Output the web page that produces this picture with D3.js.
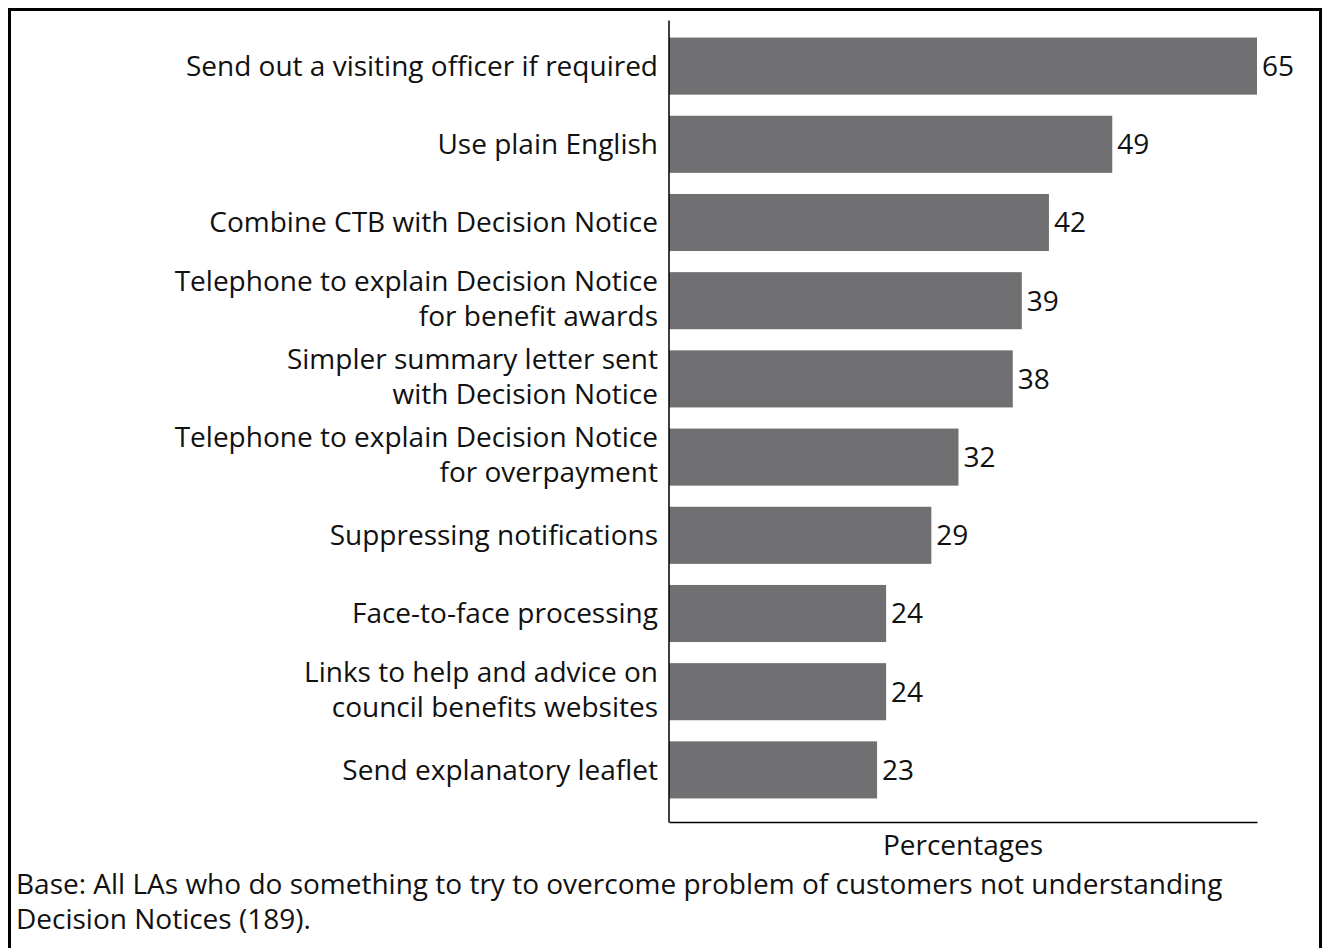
<!DOCTYPE html>
<html>
<head>
<meta charset="utf-8">
<script src="https://cdn.jsdelivr.net/npm/d3@7"></script>
<style>
  html, body { margin: 0; padding: 0; background: #fff; }
  svg { display: block; }
  text { font-family: "Open Sans", Lato, sans-serif; fill: #111; }
</style>
</head>
<body>
<svg id="chart" width="1323" height="948"></svg>
<script>
// Measures taken by LAs to help customers understand Decision Notices
const categories = [
  ["Send out a visiting officer if required"],
  ["Use plain English"],
  ["Combine CTB with Decision Notice"],
  ["Telephone to explain Decision Notice", "for benefit awards"],
  ["Simpler summary letter sent", "with Decision Notice"],
  ["Telephone to explain Decision Notice", "for overpayment"],
  ["Suppressing notifications"],
  ["Face-to-face processing"],
  ["Links to help and advice on", "council benefits websites"],
  ["Send explanatory leaflet"]
];
const values = [65, 49, 42, 39, 38, 32, 29, 24, 24, 23];
const axisTitle = "Percentages";
const baseNote = [
  "Base: All LAs who do something to try to overcome problem of customers not understanding",
  "Decision Notices (189)."
];

const svg = d3.select("#chart");
const fontSize = 28;

// Outer frame (open at the bottom edge)
svg.append("rect")
  .attr("x", 9.5).attr("y", 9.5)
  .attr("width", 1311).attr("height", 960)
  .attr("fill", "none").attr("stroke", "#000").attr("stroke-width", 3);

const x = d3.scaleLinear().domain([0, 65]).range([669, 1257]);
const idx = d3.range(categories.length);
const y = d3.scaleBand().domain(idx).range([27, 809])
  .paddingInner(0.27).paddingOuter(0.135);

// Bars
svg.append("g").selectAll("rect").data(idx).join("rect")
  .attr("x", x(0))
  .attr("y", i => y(i))
  .attr("width", i => x(values[i]) - x(0))
  .attr("height", y.bandwidth())
  .attr("fill", "#707072");

// Value labels
svg.append("g").selectAll("text").data(idx).join("text")
  .attr("x", i => x(values[i]) + 5)
  .attr("y", i => y(i) + y.bandwidth() / 2)
  .attr("dy", "0.35em")
  .attr("font-size", fontSize)
  .text(i => values[i]);

// Category labels (one or two lines, right-aligned to the axis)
const lineH = 35;
const labels = svg.append("g").selectAll("text").data(idx).join("text")
  .attr("text-anchor", "end")
  .attr("font-size", fontSize);
labels.each(function(i) {
  const lines = categories[i];
  const cy = y(i) + y.bandwidth() / 2 - (lines.length > 1 ? 2 : 0);
  const t = d3.select(this);
  lines.forEach((ln, k) => {
    t.append("tspan")
      .attr("x", 658)
      .attr("y", cy + (k - (lines.length - 1) / 2) * lineH)
      .attr("dy", "0.35em")
      .text(ln);
  });
});

// Axes: left line and bottom line, no ticks
const yAxis = d3.axisLeft(d3.scaleLinear().range([20, 822])).tickValues([]).tickSizeOuter(0);
svg.append("g").attr("transform", `translate(${x(0) - 0.5},0)`).call(yAxis)
  .select(".domain").attr("stroke", "#000").attr("stroke-width", 1.5);
const xAxis = d3.axisBottom(x).tickValues([]).tickSizeOuter(0);
svg.append("g").attr("transform", "translate(0,822)").call(xAxis)
  .select(".domain").attr("stroke", "#000").attr("stroke-width", 1.5);

// Axis title
svg.append("text")
  .attr("x", (x.range()[0] + x.range()[1]) / 2)
  .attr("y", 855)
  .attr("text-anchor", "middle")
  .attr("font-size", fontSize)
  .attr("font-weight", 500)
  .text(axisTitle);

// Base note
svg.append("g").selectAll("text").data(baseNote).join("text")
  .attr("x", 16)
  .attr("y", (d, k) => 894 + k * 35)
  .attr("font-size", fontSize)
  .text(d => d);
</script>
</body>
</html>
